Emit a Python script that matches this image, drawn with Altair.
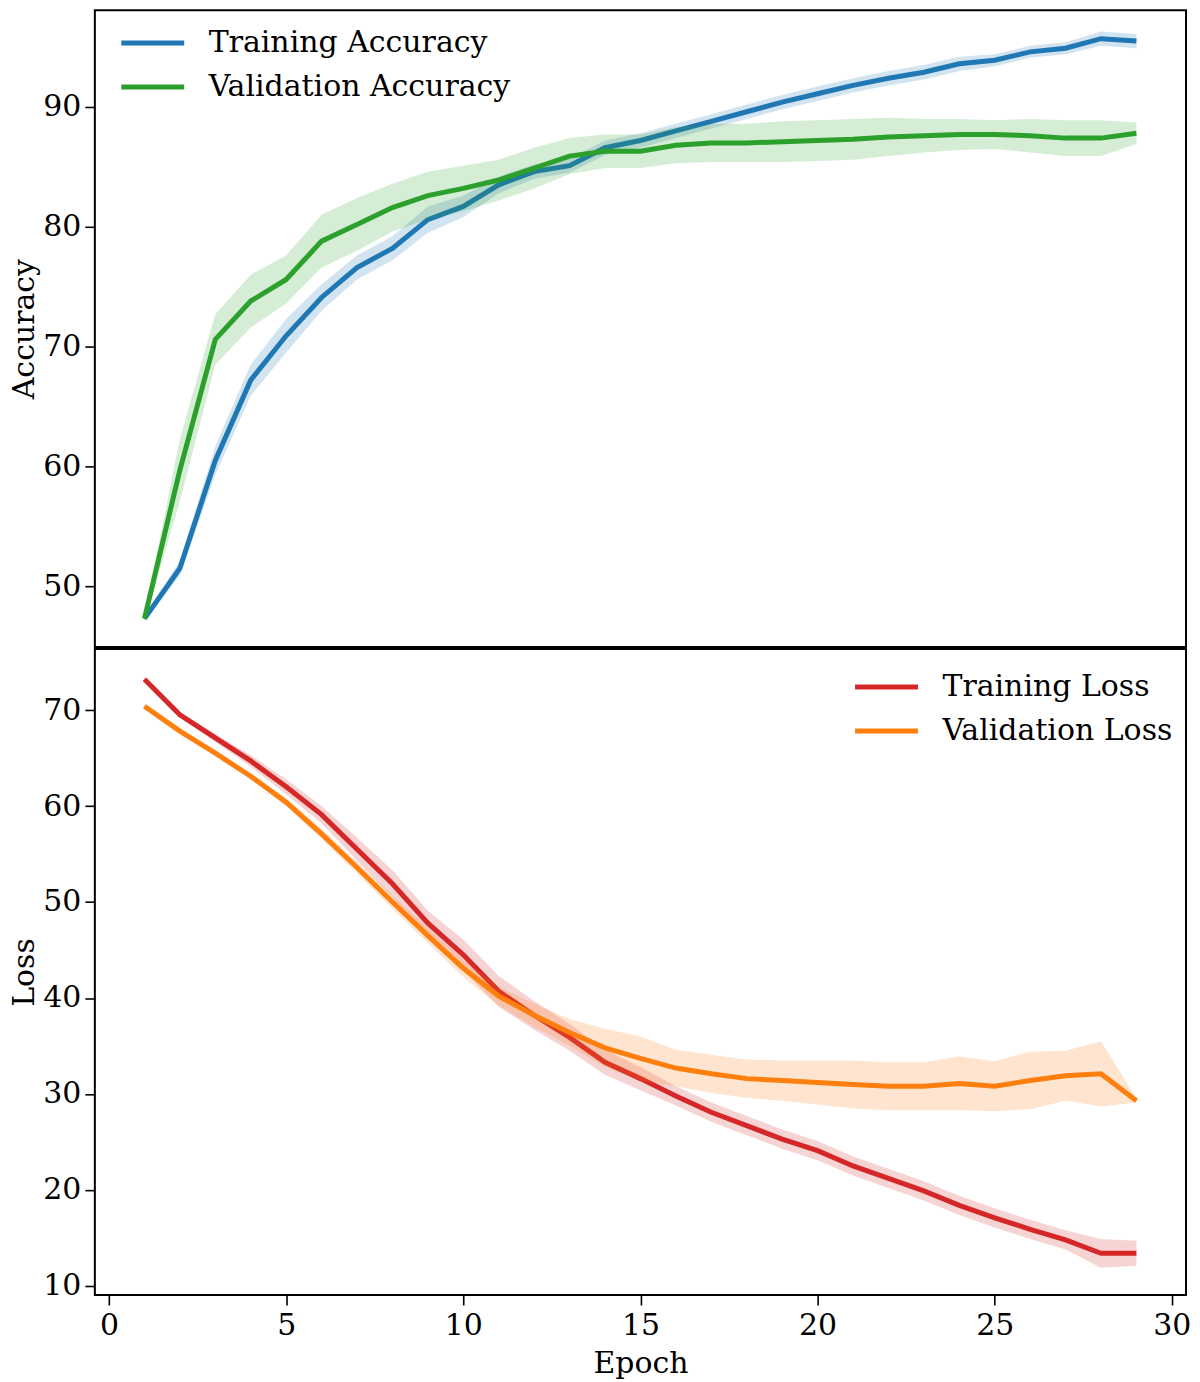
import altair as alt
import pandas as pd

epochs = list(range(1, 30))

train_acc = [47.3, 51.5, 60.5, 67.2, 70.9, 74.1, 76.6, 78.2, 80.6, 81.7, 83.5, 84.6, 85.1, 86.6, 87.2,
             88.0, 88.8, 89.6, 90.4, 91.1, 91.8, 92.4, 92.9, 93.6, 93.9, 94.6, 94.9, 95.7, 95.5]
train_acc_sd = [0.2, 0.6, 1.2, 1.3, 1.4, 1.1, 1.0, 1.0, 1.1, 0.9, 0.7, 0.6, 0.6, 0.6, 0.6,
                0.6, 0.6, 0.6, 0.6, 0.6, 0.6, 0.6, 0.6, 0.6, 0.5, 0.5, 0.5, 0.6, 0.6]
val_acc = [47.3, 59.7, 70.6, 73.8, 75.6, 78.8, 80.2, 81.6, 82.6, 83.2, 83.9, 84.9, 85.9, 86.3, 86.3,
           86.8, 87.0, 87.0, 87.1, 87.2, 87.3, 87.5, 87.6, 87.7, 87.7, 87.6, 87.4, 87.4, 87.8]
val_acc_sd = [0.3, 2.6, 2.1, 2.2, 2.0, 2.2, 2.2, 2.0, 2.0, 1.9, 1.7, 1.7, 1.5, 1.4, 1.4,
              1.5, 1.6, 1.6, 1.7, 1.7, 1.7, 1.6, 1.4, 1.3, 1.2, 1.4, 1.5, 1.5, 0.9]

train_loss = [73.2, 69.5, 67.1, 64.7, 62.0, 59.1, 55.5, 51.9, 47.8, 44.5, 40.7, 38.2, 35.9, 33.3, 31.6,
              29.8, 28.1, 26.7, 25.3, 24.1, 22.5, 21.2, 19.9, 18.4, 17.1, 15.9, 14.8, 13.4, 13.4]
train_loss_sd = [0.3, 0.3, 0.4, 0.6, 0.8, 0.9, 1.2, 1.4, 1.3, 1.6, 1.6, 1.5, 1.4, 1.3, 1.2,
                 1.0, 1.0, 1.0, 1.0, 1.0, 1.0, 1.0, 1.0, 1.0, 1.0, 1.0, 1.0, 1.5, 1.3]
val_loss = [70.4, 67.8, 65.5, 63.1, 60.4, 57.1, 53.6, 50.0, 46.5, 43.1, 40.2, 38.2, 36.4, 34.8, 33.7,
            32.7, 32.1, 31.6, 31.4, 31.2, 31.0, 30.8, 30.8, 31.1, 30.8, 31.4, 31.9, 32.1, 29.3]
val_loss_sd = [0.2, 0.2, 0.3, 0.3, 0.4, 0.5, 0.6, 0.7, 0.8, 0.9, 1.0, 1.2, 1.4, 2.0, 2.3,
               1.9, 2.0, 2.0, 2.1, 2.3, 2.5, 2.5, 2.5, 2.8, 2.6, 3.0, 2.6, 3.4, 0.2]

acc_names = ["Training Accuracy", "Validation Accuracy"]
acc_colors = ["#1f77b4", "#2ca02c"]
loss_names = ["Training Loss", "Validation Loss"]
loss_colors = ["#d62728", "#ff7f0e"]
acc_ticks = [50, 60, 70, 80, 90]
loss_ticks = [10, 20, 30, 40, 50, 60, 70]
epoch_ticks = [0, 5, 10, 15, 20, 25, 30]

FONT = "DejaVu Serif"
FS = 30
W = 1093


def long_table(names, means, sds):
    rows = []
    for n, m, s in zip(names, means, sds):
        for e, mv, sv in zip(epochs, m, s):
            rows.append({"epoch": e, "series": n, "mean": mv, "lo": mv - sv, "hi": mv + sv})
    return pd.DataFrame(rows)


def panel(df, names, colors, ydom, yticks, ytitle, lx, ly, height, show_x):
    xscale = alt.Scale(domain=[-0.4, 30.4], nice=False, zero=False)
    yscale = alt.Scale(domain=ydom, nice=False, zero=False)
    if show_x:
        xaxis = alt.Axis(values=epoch_ticks, title="Epoch", grid=False, domain=False,
                         tickSize=10, tickWidth=1.6, tickColor="black",
                         labelFont=FONT, labelFontSize=FS, labelColor="black", labelPadding=6,
                         titleFont=FONT, titleFontSize=FS, titleColor="black",
                         titleFontWeight="normal", titlePadding=8)
    else:
        xaxis = None
    yaxis = alt.Axis(values=yticks, title=ytitle, grid=False, domain=False,
                     tickSize=10, tickWidth=1.6, tickColor="black",
                     labelFont=FONT, labelFontSize=FS, labelColor="black", labelPadding=4,
                     titleFont=FONT, titleFontSize=FS, titleColor="black",
                     titleFontWeight="normal", titlePadding=3)
    cscale = alt.Scale(domain=names, range=colors)
    legend = alt.Legend(title=None, orient="none", legendX=lx, legendY=ly,
                        symbolType="M-3,0H3", symbolSize=441, symbolStrokeWidth=5,
                        labelFont=FONT, labelFontSize=FS, labelColor="black",
                        labelOffset=41, labelLimit=0, rowPadding=14, padding=0)
    base = alt.Chart(df)
    layers = []
    for n, c in zip(names, colors):
        sub = base.transform_filter(alt.datum.series == n)
        band = sub.mark_area(opacity=0.2, color=c).encode(
            x=alt.X("epoch:Q", scale=xscale, axis=xaxis),
            y=alt.Y("lo:Q", scale=yscale, axis=yaxis, stack=None),
            y2="hi:Q",
        )
        line = sub.mark_line(strokeWidth=5).encode(
            x=alt.X("epoch:Q", scale=xscale, axis=xaxis),
            y=alt.Y("mean:Q", scale=yscale, axis=yaxis),
            color=alt.Color("series:N", scale=cscale, legend=legend),
        )
        layers += [band, line]
    return alt.layer(*layers).properties(width=W, height=height)


acc_df = long_table(acc_names, [train_acc, val_acc], [train_acc_sd, val_acc_sd])
loss_df = long_table(loss_names, [train_loss, val_loss], [train_loss_sd, val_loss_sd])

top = panel(acc_df, acc_names, acc_colors, [44.92, 98.08], acc_ticks, "Accuracy", 43, 18, 638, False)
bottom = panel(loss_df, loss_names, loss_colors, [9.06, 76.35], loss_ticks, "Loss", 778, 23, 647, True)

chart = alt.vconcat(top, bottom, spacing=0).properties(padding=0).resolve_scale(
    color="independent", x="shared"
).configure_view(stroke="black", strokeWidth=2)

chart.save("out.html", embed_options={"renderer": "svg", "actions": False})
